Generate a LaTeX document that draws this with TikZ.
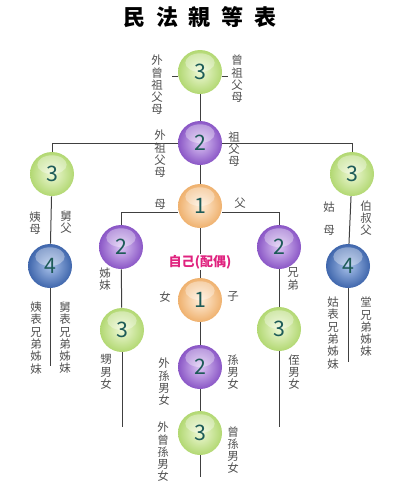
\documentclass[tikz,border=0pt]{standalone}
\usepackage{fontspec}
\setmainfont{Noto Sans CJK TC}

\definecolor{grIn}{HTML}{EEF8D6}
\definecolor{grOut}{HTML}{B2D872}
\definecolor{puIn}{HTML}{DCC6F4}
\definecolor{puOut}{HTML}{8A56C6}
\definecolor{orIn}{HTML}{FFEEDA}
\definecolor{orOut}{HTML}{EFB16E}
\definecolor{blIn}{HTML}{A9C2EA}
\definecolor{blOut}{HTML}{3F66AC}
\definecolor{numc}{HTML}{1D5B58}
\definecolor{lblc}{HTML}{505050}
\definecolor{pinkc}{HTML}{E0237F}

\tikzset{
  ball/.style={circle, minimum size=33pt, inner sep=0pt, text=numc,
    font=\fontsize{16}{16}\selectfont,
    path picture={\fill[white, opacity=.35]
      ([yshift=7pt]path picture bounding box.center) ellipse (11pt and 7pt);}},
  gball/.style={ball, inner color=grIn, outer color=grOut},
  pball/.style={ball, inner color=puIn, outer color=puOut},
  oball/.style={ball, inner color=orIn, outer color=orOut},
  bball/.style={ball, inner color=blIn, outer color=blOut},
  lbl/.style={text=lblc, align=center, inner sep=0pt,
    font=\fontsize{8.6}{9.2}\selectfont},
  link/.style={draw=black!75, line width=0.75pt}
}

\begin{document}
\begin{tikzpicture}[x=0.75pt, y=-0.75pt]
  \useasboundingbox (0,0) rectangle (403,500);
  \node (title) at (200,17) {\fontsize{16.5}{16.5}\selectfont\bfseries
    民\hspace{8pt}法\hspace{8pt}親\hspace{8pt}等\hspace{8pt}表};

  % 直系
  \node[gball] (ggp) at (200,72) {3};
  \node[pball] (gp)  at (200,143) {2};
  \node[oball] (par) at (200,206) {1};
  \node[oball] (kid) at (200,300) {1};
  \node[pball] (gk)  at (200,367) {2};
  \node[gball] (ggk) at (200,433) {3};

  % 旁系
  \node[gball] (auntL) at (52,174) {3};
  \node[bball] (cousL) at (50,266) {4};
  \node[gball] (auntR) at (352,174) {3};
  \node[bball] (cousR) at (348,266) {4};
  \node[pball] (sibL)  at (121,247) {2};
  \node[gball] (nepL)  at (122,330) {3};
  \node[pball] (sibR)  at (279,247) {2};
  \node[gball] (nepR)  at (279,329) {3};

  % 連線
  \draw[link] ([yshift=-3pt]ggp.west) -- ++(-6,0);
  \draw[link] ([yshift=-3pt]ggp.east) -- ++(6,0);
  \draw[link] (ggp) -- (gp);
  \draw[link] (auntL.north) |- (gp.west);
  \draw[link] (gp.east) -| (auntR.north);
  \draw[link] (gp) -- (par);
  \draw[link] (sibL.north) |- ([yshift=-5pt]par.west);
  \draw[link] ([yshift=-5pt]par.east) -| (sibR.north);
  \draw[link] (par) -- (kid);
  \draw[link] (kid) -- (gk);
  \draw[link] (gk) -- (ggk);
  \draw[link] (ggk.south) -- ++(0,22);
  \draw[link] (auntL) -- (cousL);
  \draw[link] (cousL.south) -- ++(0,78);
  \draw[link] (auntR) -- (cousR);
  \draw[link] (cousR.south) -- ++(0,74);
  \draw[link] (sibL) -- (nepL);
  \draw[link] (nepL.south) -- ++(0,75);
  \draw[link] (sibR) -- (nepR);
  \draw[link] (nepR.south) -- ++(0,76);

  \node[fill=white, inner sep=1pt, text=pinkc, font=\fontsize{9.8}{10}\selectfont\bfseries]
    (self) at (200,262) {自己(配偶)};

  % 稱謂
  \node[lbl] (l1)  at (157,85)  {外\\曾\\祖\\父\\母};
  \node[lbl] (l2)  at (237,79)  {曾\\祖\\父\\母};
  \node[lbl] (l3)  at (160,154) {外\\祖\\父\\母};
  \node[lbl] (l4)  at (234,149) {祖\\父\\母};
  \node[lbl] (l5)  at (160,204) {母};
  \node[lbl] (l6)  at (240,203) {父};
  \node[lbl] (l7)  at (35,223)  {姨\\母};
  \node[lbl] (l8)  at (66,222)  {舅\\父};
  \node[lbl] (l9)  at (329,219) {姑\\[8pt]母};
  \node[lbl] (l10) at (366,218) {伯\\叔\\父};
  \node[lbl] (l11) at (105,279) {姊\\妹};
  \node[lbl] (l12) at (293,279) {兄\\弟};
  \node[lbl] (l13) at (36,338)  {姨\\表\\兄\\弟\\姊\\妹};
  \node[lbl] (l14) at (65,338)  {舅\\表\\兄\\弟\\姊\\妹};
  \node[lbl] (l15) at (333,333) {姑\\表\\兄\\弟\\姊\\妹};
  \node[lbl] (l16) at (366,327) {堂\\兄\\弟\\姊\\妹};
  \node[lbl] (l17) at (165,297) {女};
  \node[lbl] (l18) at (233,296) {子};
  \node[lbl] (l19) at (106,372) {甥\\男\\女};
  \node[lbl] (l20) at (294,372) {侄\\男\\女};
  \node[lbl] (l21) at (164,382) {外\\孫\\男\\女};
  \node[lbl] (l22) at (233,372) {孫\\男\\女};
  \node[lbl] (l23) at (163,452) {外\\曾\\孫\\男\\女};
  \node[lbl] (l24) at (233,450) {曾\\孫\\男\\女};
\end{tikzpicture}
\end{document}
